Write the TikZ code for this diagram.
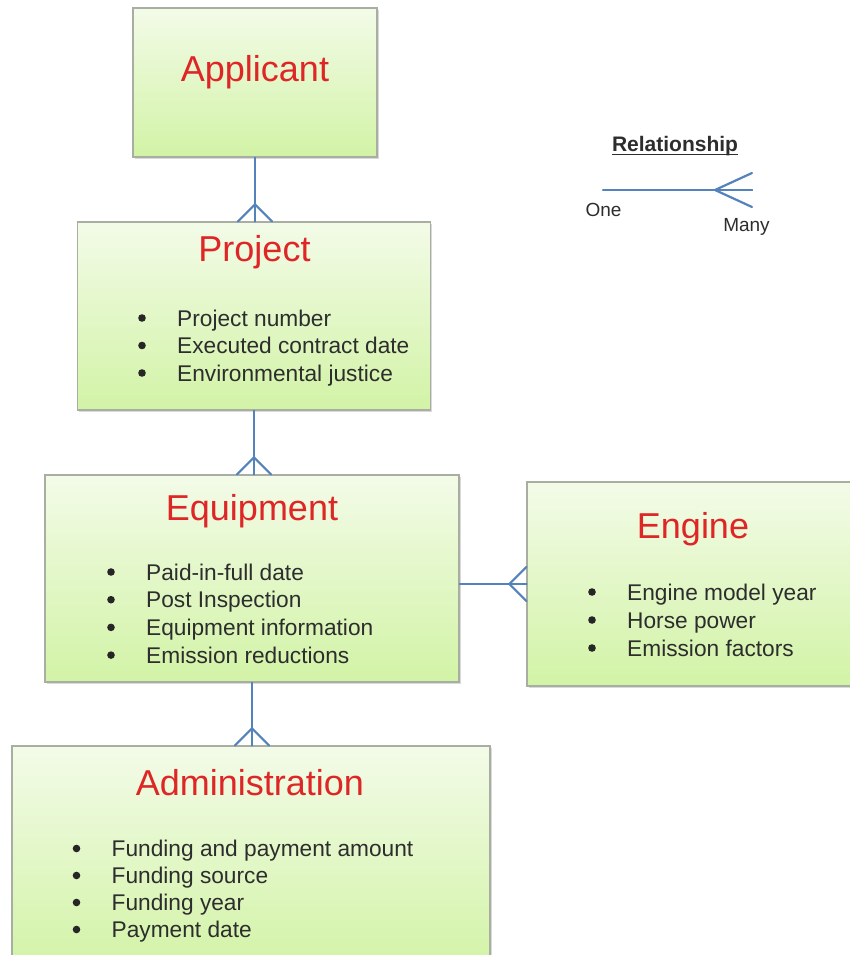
\documentclass[tikz,border=0pt]{standalone}
\usepackage{fontspec}
\setmainfont{Liberation Sans}
\usetikzlibrary{shadows,calc}

\definecolor{boxtop}{RGB}{243,251,232}
\definecolor{boxbottom}{RGB}{210,243,166}
\definecolor{boxline}{RGB}{168,174,162}
\definecolor{titlered}{RGB}{222,38,38}
\definecolor{relblue}{RGB}{84,130,186}
\definecolor{itemgray}{RGB}{45,45,45}

\begin{document}
\begin{tikzpicture}[x=1pt,y=-1pt,
		entity/.style={draw=boxline,line width=1.2pt,top color=boxtop,bottom color=boxbottom,inner sep=0pt,
			drop shadow={shadow xshift=1.5pt,shadow yshift=-2pt,opacity=.3,fill=black!50}},
		entitytitle/.style={anchor=base,inner sep=0pt,text=titlered,font=\fontsize{36}{40}\selectfont},
		attr/.style={anchor=base west,inner sep=0pt,text=itemgray,font=\fontsize{22.7}{27}\selectfont},
		legendtext/.style={anchor=base,inner sep=0pt,text=itemgray,font=\fontsize{19}{22}\selectfont},
		rel/.style={draw=relblue,line width=2.2pt,line cap=round}]
			\useasboundingbox (0,0) rectangle (849,955);
			\def\prong{17}
			\def\bulletx{35}
			%boxes
			\node[entity,minimum width=244pt,minimum height=149pt] (applicant) at (255,82.5) {};
			\node[entity,minimum width=353pt,minimum height=188pt] (project) at (254,316) {};
			\node[entity,minimum width=414pt,minimum height=207pt] (equipment) at (252,578.5) {};
			\node[entity,minimum width=329pt,minimum height=204pt] (engine) at (691.5,584) {};
			\node[entity,minimum width=478pt,minimum height=224pt] (administration) at (251,858) {};
			%titles
			\node[entitytitle] (applicant-title) at (255,81.7) {Applicant};
			\node[entitytitle] (project-title) at (254.5,261.7) {Project};
			\node[entitytitle] (equipment-title) at (252,520) {Equipment};
			\node[entitytitle] (engine-title) at (693,538.3) {Engine};
			\node[entitytitle] (administration-title) at (250,795) {Administration};
			%attribute lists
			\foreach \txt [count=\i] in {Project number,Executed contract date,Environmental justice}
				\node[attr] (project-\i) at (177,{326+27.5*(\i-1)}) {\txt};
			\foreach \txt [count=\i] in {Paid-in-full date,Post Inspection,Equipment information,Emission reductions}
				\node[attr] (equipment-\i) at (146,{580+27.7*(\i-1)}) {\txt};
			\foreach \txt [count=\i] in {Engine model year,Horse power,Emission factors}
				\node[attr] (engine-\i) at (627,{600+28*(\i-1)}) {\txt};
			\foreach \txt [count=\i] in {Funding and payment amount,Funding source,Funding year,Payment date}
				\node[attr] (administration-\i) at (111.5,{856.5+27*(\i-1)}) {\txt};
			% bullets
			\foreach \n in {project-1,project-2,project-3,equipment-1,equipment-2,equipment-3,equipment-4,
					engine-1,engine-2,engine-3,administration-1,administration-2,administration-3,administration-4}
				\fill[black!85] ([xshift=-\bulletx pt,yshift=8pt]\n.base west) circle (3.8pt);
			%one-to-many links down the chain
			\foreach \from/\to in {applicant/project,project/equipment,equipment/administration}{
				\draw[rel] (\from.south) -- (\from.south |- \to.north);
				\foreach \s in {-1,0,1}
					\draw[rel] ($(\from.south |- \to.north)+(0,-\prong)$) -- ($(\from.south |- \to.north)+(\s*\prong,0)$);
			}
			%equipment to engine
			\draw[rel] (engine.west -| equipment.east) -- (engine.west);
			\foreach \s in {-1,0,1}
				\draw[rel] ($(engine.west)+(-\prong,0)$) -- ($(engine.west)+(0,\s*\prong)$);
			%legend
			\node[legendtext,font=\fontsize{21}{24}\selectfont\bfseries] (legend) at (675,151.7) {Relationship};
			\draw[itemgray,line width=1.2pt] ([yshift=-3pt]legend.base west) -- ([yshift=-3pt]legend.base east);
			\coordinate (one) at (603,190);
			\coordinate (many) at (752,190);
			\draw[rel] (one) -- (many);
			\foreach \s in {-1,0,1}
				\draw[rel] ($(many)+(-37,0)$) -- ($(many)+(0,\s*\prong)$);
			\node[legendtext] (one-label) at (603.5,216.7) {One};
			\node[legendtext] (many-label) at (746.5,231.7) {Many};
		\end{tikzpicture}
\end{document}
